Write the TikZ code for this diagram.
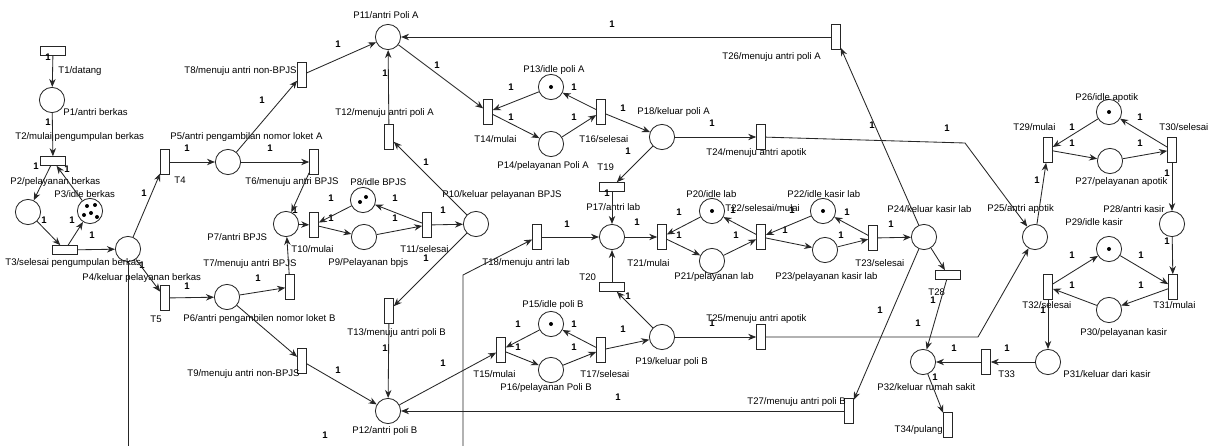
\documentclass[tikz,border=0pt]{standalone}
\usepackage{fontspec}
\setmainfont{Liberation Sans}
\usetikzlibrary{arrows.meta}

\begin{document}
\begin{tikzpicture}[
  x=0.025cm, y=-0.025cm, line width=0.6pt, draw=black!85,
  font=\fontsize{6.8}{8}\selectfont,
  place/.style={draw, circle, minimum size=6.3mm, inner sep=0pt, fill=white},
  trans/.style={draw, minimum width=2.2mm, minimum height=6.2mm, inner sep=0pt, fill=white},
  htrans/.style={draw, minimum width=6.2mm, minimum height=2.2mm, inner sep=0pt, fill=white},
  lbl/.style={anchor=west, inner sep=0pt},
  wt/.style={inner sep=0pt, font=\fontsize{6.8}{8}\selectfont\bfseries},
  flow/.style={-{Stealth[length=2mm, width=1.6mm]}},
  tok/.style={fill=black}
]
\fill[white] (0,0) rectangle (1212,446);
\useasboundingbox (0,0) rectangle (1212,446);

% places
\node[place] (p1) at (52,100) {};
\node[place] (p2) at (28,212) {};
\node[place] (p3) at (90,211) {};
\node[place] (p4) at (128,249) {};
\node[place] (p5) at (228,162) {};
\node[place] (p6) at (227,297) {};
\node[place] (p7) at (286,224) {};
\node[place] (p8) at (363,200) {};
\node[place] (p9) at (364,237) {};
\node[place] (p10) at (476,224) {};
\node[place] (p11) at (388,37) {};
\node[place] (p12) at (388,411) {};
\node[place] (p13) at (551,87) {};
\node[place] (p14) at (551,144) {};
\node[place] (p15) at (551,324) {};
\node[place] (p16) at (551,370) {};
\node[place] (p17) at (612,237) {};
\node[place] (p18) at (662,137) {};
\node[place] (p19) at (662,337) {};
\node[place] (p20) at (712,211) {};
\node[place] (p21) at (712,261) {};
\node[place] (p22) at (823,211) {};
\node[place] (p23) at (825,250) {};
\node[place] (p24) at (924,237) {};
\node[place] (p25) at (1035,237) {};
\node[place] (p26) at (1109,112) {};
\node[place] (p27) at (1110,161) {};
\node[place] (p28) at (1172,224) {};
\node[place] (p29) at (1109,249) {};
\node[place] (p30) at (1109,310) {};
\node[place] (p31) at (1048,362) {};
\node[place] (p32) at (923,362) {};

% tokens
\foreach \tx/\ty in {-3/-5, 5/-6, -6/4, 1/2, 7/6}
  \fill[tok] ([shift={(\tx,\ty)}]p3.center) circle[radius=0.05cm];
\fill[tok] ([shift={(-3,2)}]p8.center) circle[radius=0.05cm];
\fill[tok] ([shift={(3,-3)}]p8.center) circle[radius=0.05cm];
\foreach \p in {p13,p15,p20,p22,p26,p29}
  \fill[tok] (\p) circle[radius=0.05cm];

% transitions
\node[htrans] (t1) at (53,51) {};
\node[htrans] (t2) at (53,161) {};
\node[htrans] (t3) at (65,250) {};
\node[trans] (t4) at (165,162) {};
\node[trans] (t5) at (165,298) {};
\node[trans] (t6) at (314,162) {};
\node[trans] (t7) at (290,287) {};
\node[trans] (t8) at (302,75) {};
\node[trans] (t9) at (302,361) {};
\node[trans] (t10) at (314,225) {};
\node[trans] (t11) at (427,225) {};
\node[trans] (t12) at (389,137) {};
\node[trans] (t13) at (389,311) {};
\node[trans] (t14) at (488,112) {};
\node[trans] (t15) at (501,350) {};
\node[trans] (t16) at (601,112) {};
\node[trans] (t17) at (601,350) {};
\node[trans] (t18) at (537,237) {};
\node[htrans] (t19) at (612,187) {};
\node[htrans] (t20) at (612,287) {};
\node[trans] (t21) at (662,237) {};
\node[trans] (t22) at (761,237) {};
\node[trans] (t23) at (873,238) {};
\node[trans] (t24) at (761,137) {};
\node[trans] (t25) at (761,337) {};
\node[trans] (t26) at (836,37) {};
\node[trans] (t27) at (849,411) {};
\node[htrans] (t28) at (948,275) {};
\node[trans] (t29) at (1048,150) {};
\node[trans] (t30) at (1172,150) {};
\node[trans] (t31) at (1173,287) {};
\node[trans] (t32) at (1048,287) {};
\node[trans] (t33) at (986,362) {};
\node[trans] (t34) at (948,425) {};

% names
\node[lbl] (t1l) at (58,71) {T1/datang};
\node[lbl] (p1l) at (63,112) {P1/antri berkas};
\node[lbl] (t2l) at (15,137) {T2/mulai pengumpulan berkas};
\node[lbl] (p2l) at (10,182) {P2/pelayanan berkas};
\node[lbl] (p3l) at (54,194) {P3/idle berkas};
\node[lbl] (t3l) at (5,263) {T3/selesai pengumpulan berkas};
\node[lbl] (p4l) at (82,278) {P4/keluar pelayanan berkas};
\node[lbl] (t4l) at (174,180) {T4};
\node[lbl] (t5l) at (150,319) {T5};
\node[lbl] (p5l) at (170,137) {P5/antri pengambilan nomor loket A};
\node[lbl] (p6l) at (183,319) {P6/antri pengambilen nomor loket B};
\node[lbl] (t6l) at (245,182) {T6/menuju antri BPJS};
\node[lbl] (t7l) at (203,264) {T7/menuju antri BPJS};
\node[lbl] (p7l) at (207,237) {P7/antri BPJS};
\node[lbl] (t8l) at (184,71) {T8/menuju antri non-BPJS};
\node[lbl] (t9l) at (187,374) {T9/menuju antri non-BPJS};
\node[lbl] (p8l) at (350,182) {P8/idle BPJS};
\node[lbl] (p9l) at (328,263) {P9/Pelayanan bpjs};
\node[lbl] (t10l) at (291,249) {T10/mulai};
\node[lbl] (t11l) at (400,249) {T11/selesai};
\node[lbl] (p10l) at (442,195) {P10/keluar pelayanan BPJS};
\node[lbl] (p11l) at (353,15) {P11/antri Poli A};
\node[lbl] (t12l) at (335,113) {T12/menuju antri poli A};
\node[lbl] (t13l) at (347,333) {T13/menuju antri poli B};
\node[lbl] (p12l) at (352,431) {P12/antri poli B};
\node[lbl] (p13l) at (523,70) {P13/idle poli A};
\node[lbl] (t14l) at (474,139) {T14/mulai};
\node[lbl] (p14l) at (497,166) {P14/pelayanan Poli A};
\node[lbl] (t16l) at (579,139) {T16/selesai};
\node[lbl] (p18l) at (637,112) {P18/keluar poli A};
\node[lbl] (t24l) at (706,153) {T24/menuju antri apotik};
\node[lbl] (t26l) at (722,57) {T26/menuju antri poli A};
\node[lbl] (t19l) at (597,167) {T19};
\node[lbl] (p17l) at (586,207) {P17/antri lab};
\node[lbl] (t18l) at (482,263) {T18/menuju antri lab};
\node[lbl] (t20l) at (579,277) {T20};
\node[lbl] (t21l) at (627,263) {T21/mulai};
\node[lbl] (p20l) at (686,194) {P20/idle lab};
\node[lbl] (p21l) at (674,277) {P21/pelayanan lab};
\node[lbl] (t22l) at (725,208) {T22/selesai/mulai};
\node[lbl] (p22l) at (787,194) {P22/idle kasir lab};
\node[lbl] (p23l) at (775,277) {P23/pelayanan kasir lab};
\node[lbl] (t23l) at (855,263) {T23/selesai};
\node[lbl] (p24l) at (887,209) {P24/keluar kasir lab};
\node[lbl] (t28l) at (928,292) {T28};
\node[lbl] (p15l) at (522,305) {P15/idle poli B};
\node[lbl] (t15l) at (473,374) {T15/mulai};
\node[lbl] (p16l) at (500,388) {P16/pelayanan Poli B};
\node[lbl] (t17l) at (580,374) {T17/selesai};
\node[lbl] (p19l) at (635,362) {P19/keluar poli B};
\node[lbl] (t25l) at (706,319) {T25/menuju antri apotik};
\node[lbl] (t27l) at (747,402) {T27/menuju antri poli B};
\node[lbl] (p25l) at (987,209) {P25/antri apotik};
\node[lbl] (p26l) at (1075,98) {P26/idle apotik};
\node[lbl] (t29l) at (1013,127) {T29/mulai};
\node[lbl] (t30l) at (1159,127) {T30/selesai};
\node[lbl] (p27l) at (1075,182) {P27/pelayanan apotik};
\node[lbl] (p28l) at (1103,209) {P28/antri kasir};
\node[lbl] (p29l) at (1065,222) {P29/idle kasir};
\node[lbl] (t31l) at (1153,305) {T31/mulai};
\node[lbl] (t32l) at (1022,305) {T32/selesai};
\node[lbl] (p30l) at (1080,333) {P30/pelayanan kasir};
\node[lbl] (p31l) at (1063,374) {P31/keluar dari kasir};
\node[lbl] (t33l) at (998,374) {T33};
\node[lbl] (p32l) at (877,387) {P32/keluar rumah sakit};
\node[lbl, anchor=east] (t34l) at (943,430) {T34/pulang};

% weights
\foreach \wx/\wy [count=\i] in {48/57, 48/122, 36/166, 67/169, 44/220, 72/220, 92/235,
    144/193, 142/265, 187/286, 187/148, 270/148, 262/100, 295/210, 258/278,
    338/44, 338/370, 331/198, 331/218, 395/198, 395/218, 443/210, 426/162, 426/258,
    385/73, 385/348, 437/65, 443/363, 511/87, 574/87, 511/117, 574/117,
    518/324, 574/324, 518/347, 574/347, 623/108, 623/329, 712/123, 712/323,
    628/151, 607/193, 628/296, 567/224, 637/222, 679/212, 679/235, 736/235,
    733/210, 792/210, 785/230, 847/212, 841/235, 891/224, 872/125, 612/24,
    618/397, 880/310, 947/128, 1037/180, 1072/127, 1140/117, 1072/143, 1140/143,
    1167/173, 1167/241, 1072/255, 1141/255, 1072/285, 1141/285, 1043/310,
    1007/348, 954/348, 933/300, 918/323, 935/377, 325/435}
  \node[wt] (w\i) at (\wx,\wy) {1};

% arcs
\draw[flow] (t1) -- (p1);
\draw[flow] (p1) -- (t2);
\draw[flow] (t2) -- (p2);
\draw[flow] (p3) -- (t2);
\draw[flow] (p2) -- (t3);
\draw[flow] (t3) -- (p3);
\draw[flow] (t3) -- (p4);
\draw[flow] (p4) -- (t4);
\draw[flow] (p4) -- (t5);
\draw[flow] (t4) -- (p5);
\draw[flow] (t5) -- (p6);
\draw[flow] (p5) -- (t6);
\draw[flow] (p5) -- (t8);
\draw[flow] (t6) -- (p7);
\draw[flow] (p6) -- (t7);
\draw[flow] (t7) -- (p7);
\draw[flow] (p6) -- (t9);
\draw[flow] (p7) -- (t10);
\draw[flow] (p8) -- (t10);
\draw[flow] (t10) -- (p9);
\draw[flow] (p9) -- (t11);
\draw[flow] (t11) -- (p8);
\draw[flow] (t11) -- (p10);
\draw[flow] (p10) -- (t12);
\draw[flow] (p10) -- (t13);
\draw[flow] (t8) -- (p11);
\draw[flow] (t12) -- (p11);
\draw[flow] (t13) -- (p12);
\draw[flow] (t9) -- (p12);
\draw[flow] (p11) -- (t14);
\draw[flow] (p12) -- (t15);
\draw[flow] (p13) -- (t14);
\draw[flow] (t14) -- (p14);
\draw[flow] (p14) -- (t16);
\draw[flow] (t16) -- (p13);
\draw[flow] (p15) -- (t15);
\draw[flow] (t15) -- (p16);
\draw[flow] (p16) -- (t17);
\draw[flow] (t17) -- (p15);
\draw[flow] (t16) -- (p18);
\draw[flow] (t17) -- (p19);
\draw[flow] (p18) -- (t24);
\draw[flow] (p19) -- (t25);
\draw[flow] (p18) -- (t19);
\draw[flow] (t19) -- (p17);
\draw[flow] (p19) -- (t20);
\draw[flow] (t20) -- (p17);
\draw[flow] (t18) -- (p17);
\draw[flow] (p17) -- (t21);
\draw[flow] (p20) -- (t21);
\draw[flow] (t21) -- (p21);
\draw[flow] (p21) -- (t22);
\draw[flow] (t22) -- (p20);
\draw[flow] (p22) -- (t22);
\draw[flow] (t22) -- (p23);
\draw[flow] (p23) -- (t23);
\draw[flow] (t23) -- (p22);
\draw[flow] (t23) -- (p24);
\draw[flow] (p24) -- (t26);
\draw[flow] (p24) -- (t27);
\draw[flow] (p24) -- (t28);
\draw[flow] (t26) -- (p11);
\draw[flow] (t27) -- (p12);
\coordinate (c24) at (965,143);
\coordinate (c25) at (978,337);
\draw[flow] (t24) -- (c24) -- (p25);
\draw[flow] (t25) -- (c25) -- (p25);
\draw[flow] (p25) -- (t29);
\draw[flow] (p26) -- (t29);
\draw[flow] (t29) -- (p27);
\draw[flow] (p27) -- (t30);
\draw[flow] (t30) -- (p26);
\draw[flow] (t30) -- (p28);
\draw[flow] (p28) -- (t31);
\draw[flow] (p29) -- (t31);
\draw[flow] (t31) -- (p30);
\draw[flow] (p30) -- (t32);
\draw[flow] (t32) -- (p29);
\draw[flow] (t32) -- (p31);
\draw[flow] (p31) -- (t33);
\draw[flow] (t33) -- (p32);
\draw[flow] (t28) -- (p32);
\draw[flow] (p32) -- (t34);
\coordinate (e4) at (128,446);
\draw (p4) -- (e4);
\coordinate (e18) at (463,446);
\coordinate (b18) at (463,275);
\draw[flow] (e18) -- (b18) -- (t18);

\end{tikzpicture}
\end{document}
